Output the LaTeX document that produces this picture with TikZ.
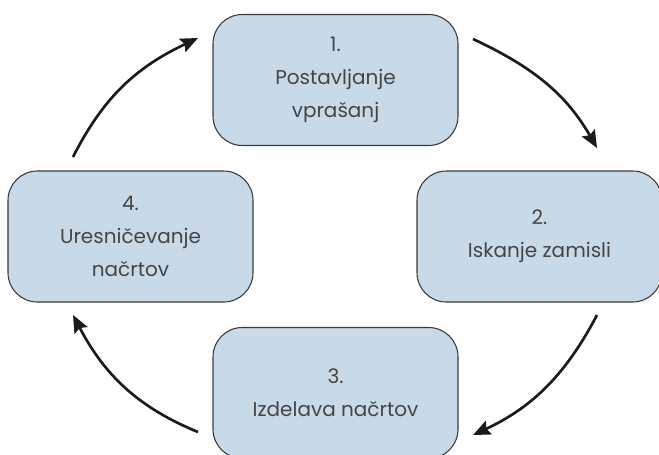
\documentclass[tikz,border=0pt]{standalone}
\usepackage{fontspec}
\setmainfont{Poppins}
\usetikzlibrary{arrows.meta}
\definecolor{boxfill}{HTML}{C8D9E7}
\definecolor{boxline}{HTML}{3A3A3A}
\definecolor{txt}{HTML}{454545}
\definecolor{arr}{HTML}{1E1A1A}
\tikzset{
  stepbox/.style={draw=boxline, line width=0.8pt, fill=boxfill, rounded corners=22pt,
    minimum width=183.75pt, minimum height=98.25pt, inner sep=0pt, align=center,
    text=txt, font=\fontsize{15}{24.75}\selectfont},
  cyc/.style={draw=arr, line width=2pt, -{Stealth[length=13pt,width=11pt,inset=2pt]}}
}
\begin{document}
\begin{tikzpicture}[x=0.75pt,y=-0.75pt]
\useasboundingbox (0,0) rectangle (659,454);
\node[stepbox] (b1) at (335.5,80) {1.\\Postavljanje\\vprašanj};
\node[stepbox] (b2) at (539.5,236.5) {2.\\Iskanje zamisli};
\node[stepbox] (b3) at (335.5,393) {3.\\Izdelava načrtov};
\node[stepbox] (b4) at (130.5,236.5) {4.\\Uresničevanje\\načrtov};
\coordinate (a1s) at (473,39);
\coordinate (a1e) at (597,148);
\coordinate (a2s) at (597,315);
\coordinate (a2e) at (473,435);
\coordinate (a3s) at (198,432);
\coordinate (a3e) at (73,315);
\coordinate (a4s) at (73,157);
\coordinate (a4e) at (198,38);
\draw[cyc] (a1s) .. controls (533,67) and (566,94) .. (a1e);
\draw[cyc] (a2s) .. controls (566,374) and (533,407) .. (a2e);
\draw[cyc] (a3s) .. controls (137,407) and (104,374) .. (a3e);
\draw[cyc] (a4s) .. controls (104,96) and (137,67) .. (a4e);
\end{tikzpicture}
\end{document}
